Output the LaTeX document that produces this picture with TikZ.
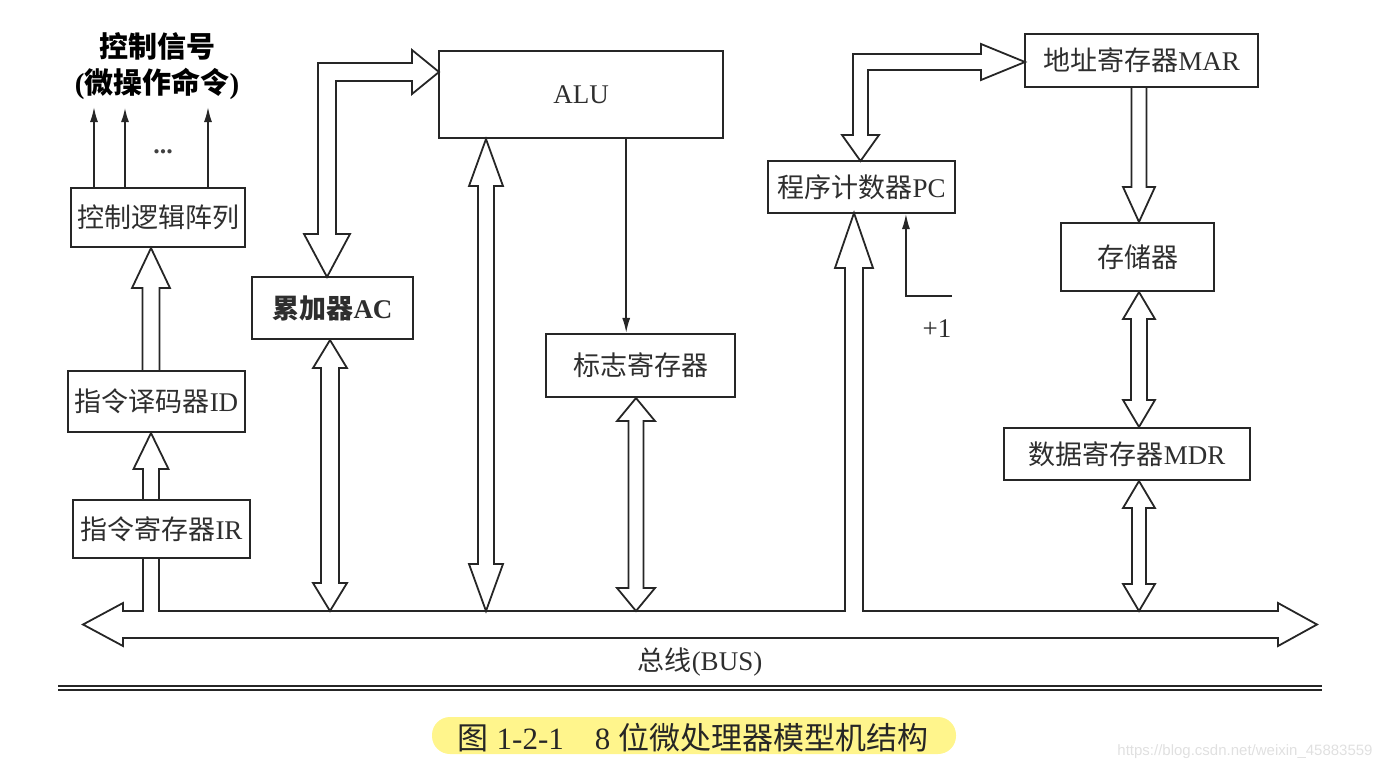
\documentclass[tikz,border=0pt]{standalone}
\usepackage{fontspec}
\setmainfont{Liberation Serif}
\newfontfamily\cjk{Noto Sans CJK SC}
\newfontfamily\wmfont{Liberation Sans}
\usetikzlibrary{arrows.meta,calc}
% vertical hollow double arrow: #1 top tip, #2 bottom tip, #3 half shaft, #4 half head, #5 head length
\newcommand\hvdbl[5]{%
  \draw[hol] let \p1=(#1), \p2=(#2) in
    (\x1,\y1) -- (\x1+#4pt,\y1-#5pt) -- (\x1+#3pt,\y1-#5pt) -- (\x1+#3pt,\y2+#5pt)
    -- (\x1+#4pt,\y2+#5pt) -- (\x1,\y2) -- (\x1-#4pt,\y2+#5pt) -- (\x1-#3pt,\y2+#5pt)
    -- (\x1-#3pt,\y1-#5pt) -- (\x1-#4pt,\y1-#5pt) -- cycle;}
% hollow up arrow: #1 tip (top), #2 tail (bottom)
\newcommand\hvup[5]{%
  \draw[hol] let \p1=(#1), \p2=(#2) in
    (\x1-#3pt,\y2) -- (\x1-#3pt,\y1-#5pt) -- (\x1-#4pt,\y1-#5pt) -- (\x1,\y1)
    -- (\x1+#4pt,\y1-#5pt) -- (\x1+#3pt,\y1-#5pt) -- (\x1+#3pt,\y2);}
% hollow down arrow: #1 tail (top), #2 tip (bottom)
\newcommand\hvdown[5]{%
  \draw[hol] let \p1=(#1), \p2=(#2) in
    (\x1-#3pt,\y1) -- (\x1-#3pt,\y2+#5pt) -- (\x1-#4pt,\y2+#5pt) -- (\x1,\y2)
    -- (\x1+#4pt,\y2+#5pt) -- (\x1+#3pt,\y2+#5pt) -- (\x1+#3pt,\y1);}
\begin{document}
\begin{tikzpicture}[x=1pt,y=-1pt,
  box/.style={draw=black!85, line width=2.1pt, inner sep=0pt, fill=white,
    font=\fontsize{27}{30}\selectfont, text=black!82},
  hol/.style={draw=black!85, line width=1.8pt, line join=miter},
  sig/.style={draw=black!85, line width=1.7pt, -{Latex[length=15pt,width=8pt]}},
  lbl/.style={font=\fontsize{27}{30}\selectfont, text=black!82, inner sep=0pt},
]
\useasboundingbox (0,0) rectangle (1391,771);

% ---- boxes
\node[box, minimum width=174pt, minimum height=59pt] (CLA) at (158,217.5) {\cjk 控制逻辑阵列};
\node[box, minimum width=177pt, minimum height=61pt] (ID)  at (156.5,401.5) {{\cjk 指令译码器}ID};
\node[box, minimum width=177pt, minimum height=58pt] (IR)  at (161.5,529) {{\cjk 指令寄存器}IR};
\node[box, minimum width=161pt, minimum height=62pt] (AC)  at (332.5,308) {{\cjk\bfseries 累加器}\textbf{AC}};
\node[box, minimum width=284pt, minimum height=87pt] (ALU) at (581,94.5) {ALU};
\node[box, minimum width=189pt, minimum height=63pt] (FL)  at (640.5,365.5) {\cjk 标志寄存器};
\node[box, minimum width=187pt, minimum height=52pt] (PC)  at (861.5,187) {{\cjk 程序计数器}PC};
\node[box, minimum width=233pt, minimum height=53pt] (MAR) at (1141.5,60.5) {{\cjk 地址寄存器}MAR};
\node[box, minimum width=153pt, minimum height=68pt] (MEM) at (1137.5,257) {\cjk 存储器};
\node[box, minimum width=246pt, minimum height=52pt] (MDR) at (1127,454) {{\cjk 数据寄存器}MDR};

% ---- bus junction coordinates (bus top edge)
\coordinate (jIR)  at (151,611);
\coordinate (jAC)  at (330,611);
\coordinate (jALU) at (486,611);
\coordinate (jFL)  at (636,611);
\coordinate (jPC)  at (854,611);
\coordinate (jM)   at (1139,611);

% ---- bus (with IR tap and PC input arrow)
\draw[hol] (143,558) -- (143,611) -- (123,611) -- (123,603) -- (83,624.5) -- (123,646)
  -- (123,638) -- (1278,638) -- (1278,646) -- (1317,624.5) -- (1278,603) -- (1278,611)
  -- (863,611) -- (863,268) -- (873,268) -- (854,213) -- (835,268) -- (845,268)
  -- (845,611) -- (159,611) -- (159,558);

% ---- vertical hollow arrows
\hvup{jIR |- ID.south}{jIR |- IR.north}{8}{17.5}{36}
\hvup{jIR |- CLA.south}{jIR |- ID.north}{8.5}{19}{40}
\hvdbl{jAC |- AC.south}{jAC}{9}{17}{28}
\hvdbl{jALU |- ALU.south}{jALU}{8}{17}{47}
\hvdbl{jFL |- FL.south}{jFL}{7.5}{19}{23}
\hvdbl{jM |- MEM.south}{jM |- MDR.north}{8}{16}{27}
\hvdbl{jM |- MDR.south}{jM}{7}{16}{27}
\hvdown{jM |- MAR.south}{jM |- MEM.north}{7.5}{16}{35}

% ---- bent hollow arrows
\draw[hol] (318,234) -- (304,234) -- (327,277) -- (350,234) -- (336,234) -- (336,81)
  -- (412,81) -- (412,94) -- (439,72) -- (412,50) -- (412,63) -- (318,63) -- cycle;
\draw[hol] (853,135) -- (842,135) -- (860.5,161) -- (879,135) -- (868,135) -- (868,70)
  -- (981,70) -- (981,80) -- (1025,62) -- (981,44) -- (981,54) -- (853,54) -- cycle;

% ---- thin arrows
\draw[sig] ($(ALU.south west)!0.658!(ALU.south east)$) coordinate (af) -- (af |- FL.north);
\coordinate (inc) at (952,296);
\draw[sig, line width=1.3pt] (inc) -| ($(PC.south west)+(139,0)$);
\node[lbl] (plus) at (937,329) {+1};

\coordinate (s1) at (94,107);
\coordinate (s2) at (125,107);
\coordinate (s3) at (208,107);
\draw[sig] (s1 |- CLA.north) -- (s1);
\draw[sig, line width=2.4pt] (s2 |- CLA.north) -- (s2);
\draw[sig] (s3 |- CLA.north) -- (s3);
\node[font=\bfseries\fontsize{26}{26}\selectfont, text=black!75, inner sep=0pt] (dots) at (163,152) {...};

\node[lbl, font=\fontsize{29}{30}\selectfont, text=black] (t1) at (157,46) {\cjk\bfseries 控制信号};
\node[lbl, font=\fontsize{29}{30}\selectfont, text=black] (t2) at (157,84) {\textbf{(}{\cjk\bfseries 微操作命令}\textbf{)}};

% ---- bus label
\node[lbl] (buslbl) at (700,662) {{\cjk 总线}(BUS)};

% ---- double rule
\draw[black!85, line width=1.6pt] (58,685.7) -- (1322,685.7);
\draw[black!85, line width=2.6pt] (58,690) -- (1322,690);

% ---- caption
\fill[fill={rgb,255:red,255;green,245;blue,140}, rounded corners=18pt] (432,717) rectangle (956,754);
\node[lbl, font=\fontsize{31}{32}\selectfont, text=black!85] (cap) at (693,738)
  {{\cjk 图} 1-2-1\quad 8 {\cjk 位微处理器模型机结构}};

% ---- watermark
\node[font=\wmfont\fontsize{15}{15}\selectfont, text=black!12, inner sep=0pt] (wm) at (1245,752)
  {https://blog.csdn.net/weixin\_45883559};
\end{tikzpicture}
\end{document}
